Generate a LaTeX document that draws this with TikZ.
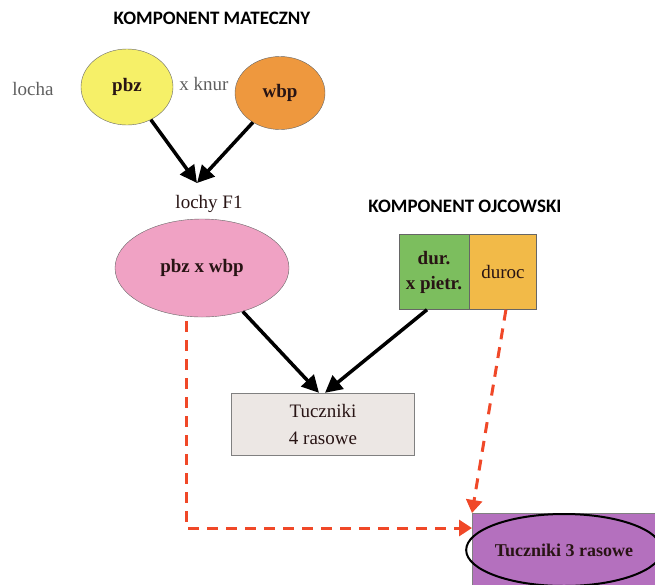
\documentclass[tikz,border=0pt]{standalone}
\usepackage{fontspec}
\setmainfont{Liberation Serif}
\newfontfamily\headfont{Carlito}
\definecolor{pbzyellow}{RGB}{246,240,104}
\definecolor{wbporange}{RGB}{238,152,62}
\definecolor{f1pink}{RGB}{240,162,196}
\definecolor{durgreen}{RGB}{124,190,94}
\definecolor{durocorange}{RGB}{242,186,72}
\definecolor{boxgray}{RGB}{236,231,228}
\definecolor{mixpurple}{RGB}{180,112,190}
\definecolor{dashred}{RGB}{240,72,40}
\definecolor{labelgray}{RGB}{95,95,95}
\definecolor{inktext}{RGB}{40,20,20}
\usepackage{tikz}
\usetikzlibrary{arrows.meta,positioning,calc,shapes.geometric}

\begin{document}
\begin{tikzpicture}[x=1pt, y=-1pt,
    every node/.style={font=\fontsize{19}{22}\selectfont, inner sep=0pt},
    breed/.style={draw=black!60, thin, ellipse, text=inktext, font=\bfseries\fontsize{19}{22}\selectfont},
    blackarrow/.style={line width=3.5pt, -{Triangle[length=17pt,width=17pt]}},
    reddash/.style={dashred, line width=3pt, dash pattern=on 11pt off 8pt, -{Triangle[length=13pt,width=16pt]}}]
          \useasboundingbox (0,0) rectangle (655,584);
          \clip (0,0) rectangle (655,584);
          \node[font=\headfont\bfseries\fontsize{19}{21}\selectfont] (mateczny) at (212,18) {KOMPONENT MATECZNY};
          \node[font=\headfont\bfseries\fontsize{19}{21}\selectfont] (ojcowski) at (465,206) {KOMPONENT OJCOWSKI};
          
          \node[text=labelgray] (locha) at (33,89) {locha};
          \node[breed, fill=pbzyellow, minimum width=92pt, minimum height=76pt] (pbz) at (127,87) {pbz};
          \node[text=labelgray] (knur) at (204,84) {x knur};
          \node[breed, fill=wbporange, minimum width=90pt, minimum height=73pt] (wbp) at (280,93) {wbp};
          
          \coordinate (meet) at (197,183);
          \node[text=inktext] (lochy) at (209,204) {lochy F1};
          \node[breed, fill=f1pink, minimum width=174pt, minimum height=98pt] (f1) at (202,268) {pbz x wbp};
          
          \node[draw=black!60, thin, fill=durgreen, minimum width=70pt, minimum height=75pt, align=center, text=inktext, font=\bfseries\fontsize{19}{25}\selectfont] (durpiet) at (434,272) {dur.\\x pietr.};
          \node[draw=black!60, thin, fill=durocorange, minimum width=67pt, minimum height=75pt, right=0pt of durpiet, text=inktext] (duroc) {duroc};
          
          \node[draw=black!50, thin, fill=boxgray, minimum width=183pt, minimum height=62pt, align=center, text=inktext, font=\fontsize{19}{27}\selectfont] (t4) at (323,424) {Tuczniki\\4 rasowe};
          
          \node[draw=black!50, thin, fill=mixpurple, minimum width=200pt, minimum height=90pt, anchor=north west] (t3) at (472,513) {};
          \node[draw=black, line width=2pt, ellipse, minimum width=182pt, minimum height=72pt, text=inktext, font=\bfseries\fontsize{18}{21}\selectfont] (t3label) at (564,550) {Tuczniki 3 rasowe};
          
          % F1 sows
          \draw[blackarrow] (pbz) -- (meet);
          \draw[blackarrow] (wbp) -- (meet);
          
          % 4-breed fatteners
          \draw[blackarrow] (f1) -- ([xshift=-4pt]t4.north);
          \draw[blackarrow] ([xshift=-7pt]durpiet.south) -- ([xshift=2pt]t4.north);
          
          % 3-breed fatteners
          \coordinate (bend) at (186,528);
          \draw[reddash] ([yshift=-4pt]f1.south -| bend) -- (bend) -- (bend -| t3.west);
          \draw[reddash] ([xshift=3pt]duroc.south) -- (t3.north west);
        \end{tikzpicture}
\end{document}
